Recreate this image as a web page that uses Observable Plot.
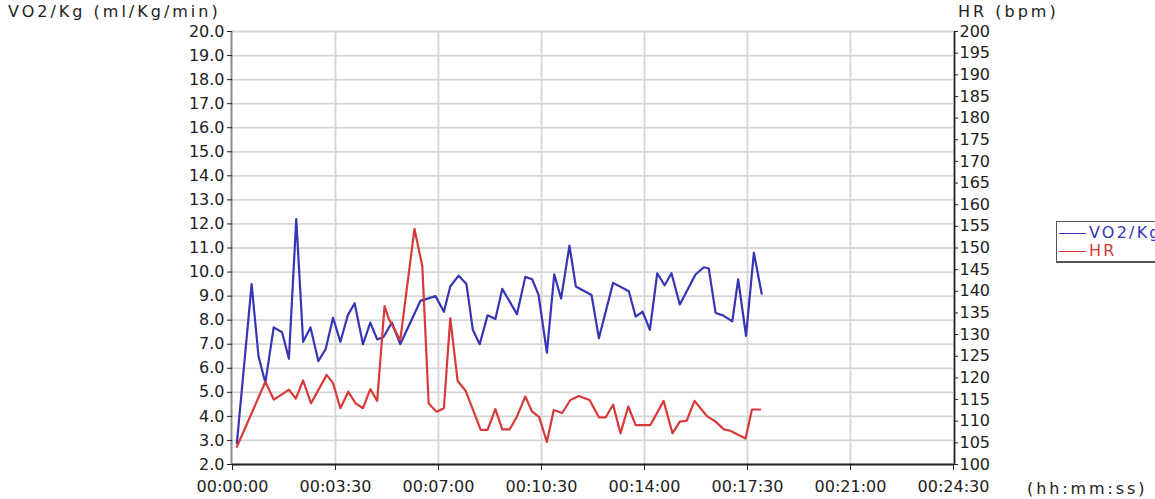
<!DOCTYPE html>
<html><head><meta charset="utf-8">
<script src="https://cdn.jsdelivr.net/npm/d3@7"></script>
<script src="https://cdn.jsdelivr.net/npm/@observablehq/plot@0.6"></script>
<style>
body{margin:0;background:#fff;overflow:hidden;font-family:"DejaVu Sans",Verdana,sans-serif;}
#wrap{position:relative;width:1155px;height:499px;overflow:hidden;}
.t{position:absolute;color:#222;font-size:16px;white-space:nowrap;line-height:1;}
#legend{position:absolute;left:1056px;top:221px;width:130px;height:39px;border:1.5px solid #555;border-bottom-width:2.5px;background:#fff;}
.lg{position:absolute;left:2px;font-size:16px;letter-spacing:2.2px;white-space:nowrap;line-height:1;}
.lg span{display:inline-block;width:27px;height:0;border-top:1.6px solid;vertical-align:middle;margin-right:3px;}
</style></head><body>
<div id="wrap">
  <div id="chart"></div>
  <div class="t" style="left:8px;top:4px;letter-spacing:3px;">VO2/Kg (ml/Kg/min)</div>
  <div class="t" style="left:958px;top:4px;letter-spacing:3px;">HR (bpm)</div>
  <div class="t" style="left:1027px;top:481px;letter-spacing:2.9px;">(hh:mm:ss)</div>
  <div id="legend">
    <div class="lg" style="top:3px;color:#3535b5;"><span style="border-color:#3535b5"></span>VO2/Kg</div>
    <div class="lg" style="top:21px;color:#d83a3a;"><span style="border-color:#d83a3a"></span>HR</div>
  </div>
</div>
<script>
// VO2/Kg series (time in seconds, value ml/Kg/min)
const vo2Time = [9, 39, 53, 67, 84, 101, 115, 130, 144, 159, 175, 190, 205, 220, 235, 249, 266, 281, 295, 308, 325, 342, 383, 414, 431, 444, 461, 477, 490, 504, 520, 536, 550, 580, 597, 611, 624, 641, 656, 670, 687, 700, 732, 747, 776, 808, 822, 836, 851, 866, 881, 895, 912, 944, 961, 971, 985, 1000, 1019, 1031, 1047, 1063, 1079];
const vo2Value = [2.9, 9.5, 6.5, 5.4, 7.7, 7.5, 6.4, 12.2, 7.1, 7.7, 6.3, 6.8, 8.1, 7.1, 8.2, 8.7, 7.0, 7.9, 7.2, 7.3, 7.9, 7.0, 8.8, 9.0, 8.35, 9.4, 9.85, 9.5, 7.6, 7.0, 8.2, 8.05, 9.3, 8.25, 9.8, 9.7, 9.05, 6.65, 9.9, 8.9, 11.1, 9.4, 9.05, 7.25, 9.55, 9.2, 8.15, 8.35, 7.6, 9.95, 9.45, 9.95, 8.65, 9.9, 10.2, 10.15, 8.3, 8.2, 7.95, 9.7, 7.35, 10.8, 9.1];
// HR series (time in seconds, bpm)
const hrTime = [9, 67, 84, 101, 115, 129, 144, 160, 192, 205, 220, 236, 251, 266, 281, 295, 310, 318, 342, 371, 387, 400, 416, 431, 444, 459, 475, 488, 506, 520, 536, 550, 565, 580, 597, 611, 625, 641, 655, 672, 689, 706, 728, 747, 761, 776, 791, 807, 822, 852, 879, 897, 912, 926, 942, 968, 985, 1002, 1015, 1046, 1059, 1076];
const hrValue = [104.1, 119.1, 115.0, 116.2, 117.3, 115.2, 119.4, 114.1, 120.7, 118.8, 113.0, 116.8, 114.1, 113.0, 117.4, 114.7, 136.6, 133.8, 128.7, 154.4, 145.8, 114.1, 112.2, 113.0, 133.8, 119.3, 117.1, 113.3, 108.0, 108.0, 112.8, 108.1, 108.1, 111.1, 115.7, 112.2, 111.0, 105.2, 112.6, 111.9, 114.9, 115.8, 114.9, 110.9, 110.9, 113.8, 107.2, 113.4, 109.1, 109.1, 114.7, 107.2, 109.9, 110.1, 114.7, 111.1, 109.9, 108.1, 107.8, 106.0, 112.7, 112.7];
// Axis ticks
const xTicks = [0, 210, 420, 630, 840, 1050, 1260, 1470];
const yTicks = [2, 3, 4, 5, 6, 7, 8, 9, 10, 11, 12, 13, 14, 15, 16, 17, 18, 19, 20];
const hrTicks = [100, 105, 110, 115, 120, 125, 130, 135, 140, 145, 150, 155, 160, 165, 170, 175, 180, 185, 190, 195, 200];
const yMin = 2, yMax = 20, hrMin = 100, hrMax = 200;

const vo2Data = vo2Time.map((t, i) => ({t, v: vo2Value[i]}));
const hrData = hrTime.map((t, i) => ({t, v: hrValue[i]}));
// map HR onto the left (VO2) scale so both share the plot frame
const toY = h => yMin + (h - hrMin) * (yMax - yMin) / (hrMax - hrMin);
const fromY = y => hrMin + (y - yMin) * (hrMax - hrMin) / (yMax - yMin);
const pad = n => String(n).padStart(2, "0");
const fmt = s => [Math.floor(s / 3600), Math.floor(s % 3600 / 60), s % 60].map(pad).join(":");

const chart = Plot.plot({
  width: 1155, height: 499,
  marginLeft: 232, marginRight: 202, marginTop: 31, marginBottom: 35,
  style: {fontFamily: "DejaVu Sans, Verdana, sans-serif", fontSize: "16px", color: "#222", background: "#fff"},
  x: {domain: [0, 1470]},
  y: {domain: [yMin, yMax]},
  marks: [
    Plot.gridY(yTicks, {stroke: "#d6d6d6", strokeOpacity: 1, strokeWidth: 1.8}),
    Plot.gridX(xTicks.slice(1, -1), {stroke: "#d6d6d6", strokeOpacity: 1, strokeWidth: 1.8}),
    Plot.line(vo2Data, {x: "t", y: "v", stroke: "#3535b5", strokeWidth: 2.2}),
    Plot.line(hrData, {x: "t", y: d => toY(d.v), stroke: "#d83a3a", strokeWidth: 2.2}),
    Plot.ruleX([0], {stroke: "#8a8a8a", strokeWidth: 2, dx: -1}),
    Plot.ruleX([1470], {stroke: "#222", strokeWidth: 1.8, dx: 1}),
    Plot.ruleY([yMin], {stroke: "#222", strokeWidth: 1.8}),
    Plot.axisY(yTicks, {anchor: "left", tickFormat: d => d.toFixed(1), tickSize: 5, tickPadding: 3, label: null, style: {letterSpacing: "1.8px"}}),
    Plot.axisY(hrTicks.map(toY), {anchor: "right", tickFormat: d => String(Math.round(fromY(d))), tickSize: 4, tickPadding: 2, label: null, style: {letterSpacing: "2px"}}),
    Plot.axisX(xTicks, {tickFormat: fmt, tickSize: 6, tickPadding: 10, label: null, style: {letterSpacing: "2.6px"}})
  ]
});
document.getElementById("chart").appendChild(chart);
</script>
</body></html>
